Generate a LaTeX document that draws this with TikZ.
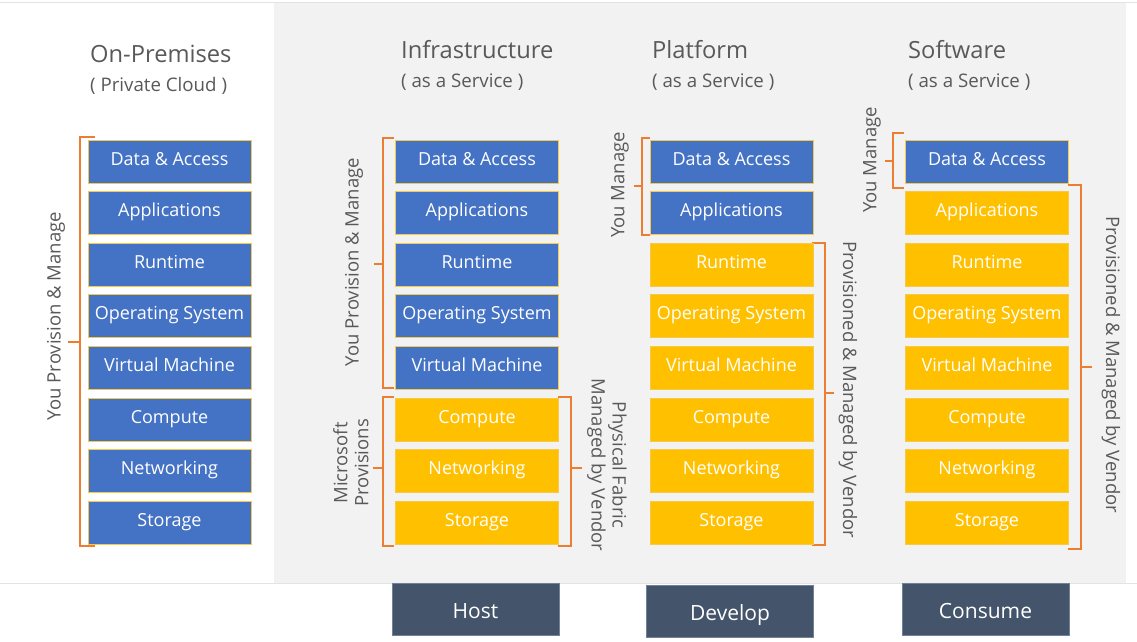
\documentclass[tikz,border=0pt]{standalone}
\usepackage{fontspec}
\setmainfont{Open Sans}
\definecolor{panelgray}{HTML}{F2F2F2}
\definecolor{linegray}{HTML}{E3E3E3}
\definecolor{msblue}{HTML}{4472C4}
\definecolor{msgold}{HTML}{FFC000}
\definecolor{boxedge}{HTML}{F7C949}
\definecolor{brkorange}{HTML}{ED7D31}
\definecolor{txtgray}{HTML}{595959}
\definecolor{slate}{HTML}{44546A}
\definecolor{slateedge}{HTML}{71819A}
\begin{document}
\begin{tikzpicture}[x=1pt,y=-1pt,
  layer/.style={minimum width=163pt, minimum height=43pt, inner sep=0pt,
    draw=boxedge, line width=0.75pt, text=white,
    font=\fontsize{18}{20}\selectfont, text height=12pt, text depth=5pt},
  bottombox/.style={minimum width=167pt, minimum height=52pt, inner sep=0pt,
    fill=slate, draw=slateedge, line width=0.6pt, text=white,
    font=\fontsize{21}{24}\selectfont, text height=21pt, text depth=3pt},
  heading/.style={anchor=base west, inner sep=0pt, text=txtgray,
    font=\fontsize{23.7}{26}\selectfont},
  subheading/.style={anchor=base west, inner sep=0pt, text=txtgray,
    font=\fontsize{18.7}{21}\selectfont},
  sidelbl/.style={inner sep=0pt, text=txtgray, align=center,
    font=\fontsize{18.5}{21}\selectfont},
  brk/.style={draw=brkorange, line width=1.5pt}
]
\useasboundingbox (0,0) rectangle (1137,642);
\fill[white] (0,0) rectangle (1137,642);
\fill[panelgray] (274,3) rectangle (1126,583);
\draw[linegray, line width=0.8pt] (0,583) -- (1137,583);
\draw[linegray, line width=0.6pt] (0,2.5) -- (1137,2.5);

% headings
\node[heading] (h1) at (90,63) {On-Premises};
\node[subheading] (s1) at (90,91) {( Private Cloud )};
\node[heading] (h2) at (401,59) {Infrastructure};
\node[subheading] (s2) at (401,88) {( as a Service )};
\node[heading] (h3) at (652,59) {Platform};
\node[subheading] (s3) at (652,88) {( as a Service )};
\node[heading] (h4) at (908,59) {Software};
\node[subheading] (s4) at (908,88) {( as a Service )};

% brackets
\draw[brk] (95,137) -- (80,137) -- (80,546) -- (95,546);
\draw[brk] (80,342) -- (68,342);
\draw[brk] (394,138) -- (383,138) -- (383,388) -- (394,388);
\draw[brk] (383,264) -- (374,264);
\draw[brk] (394,397) -- (383,397) -- (383,546) -- (394,546);
\draw[brk] (383,468) -- (373,468);
\draw[brk] (558,397) -- (571,397) -- (571,546) -- (558,546);
\draw[brk] (571,468) -- (582,468);
\draw[brk] (650,138) -- (642,138) -- (642,235) -- (650,235);
\draw[brk] (642,186) -- (634,186);
\draw[brk] (812,243) -- (825,243) -- (825,545) -- (812,545);
\draw[brk] (825,393) -- (834,393);
\draw[brk] (904,133) -- (893,133) -- (893,188) -- (904,188);
\draw[brk] (893,161) -- (885,161);
\draw[brk] (1068,185) -- (1081,185) -- (1081,549) -- (1068,549);
\draw[brk] (1081,367) -- (1092,367);

% layer boxes
\foreach \cx/\n [count=\c] in {169.5/8,477/5,731.5/2,987/1}{
  \foreach \t [count=\i] in {Data \& Access,Applications,Runtime,Operating System,Virtual Machine,Compute,Networking,Storage}{
    \ifnum\i>\n \def\fc{msgold}\else\def\fc{msblue}\fi
    \node[layer, fill=\fc] (c\c r\i) at (\cx,{161.5+51.6*(\i-1)}) {\t};
  }
}

% side labels
\node[sidelbl, rotate=90] (l1) at (56,316) {You Provision \& Manage};
\node[sidelbl, rotate=90] (l2) at (354,262) {You Provision \& Manage};
\node[sidelbl, rotate=90] (l3) at (351,463) {Microsoft\\Provisions};
\node[sidelbl, rotate=-90] (l4) at (607,465) {Physical Fabric\\Managed by Vendor};
\node[sidelbl, rotate=90] (l5) at (620,185) {You Manage};
\node[sidelbl, rotate=-90] (l6) at (848,390) {Provisioned \& Managed by Vendor};
\node[sidelbl, rotate=90] (l7) at (872,160) {You Manage};
\node[sidelbl, rotate=-90] (l8) at (1111,365) {Provisioned \& Managed by Vendor};

% bottom labels
\node[bottombox] (host) at (475.5,609) {Host};
\node[bottombox] (develop) at (730,611) {Develop};
\node[bottombox] (consume) at (985.5,609.5) {Consume};
\end{tikzpicture}
\end{document}
